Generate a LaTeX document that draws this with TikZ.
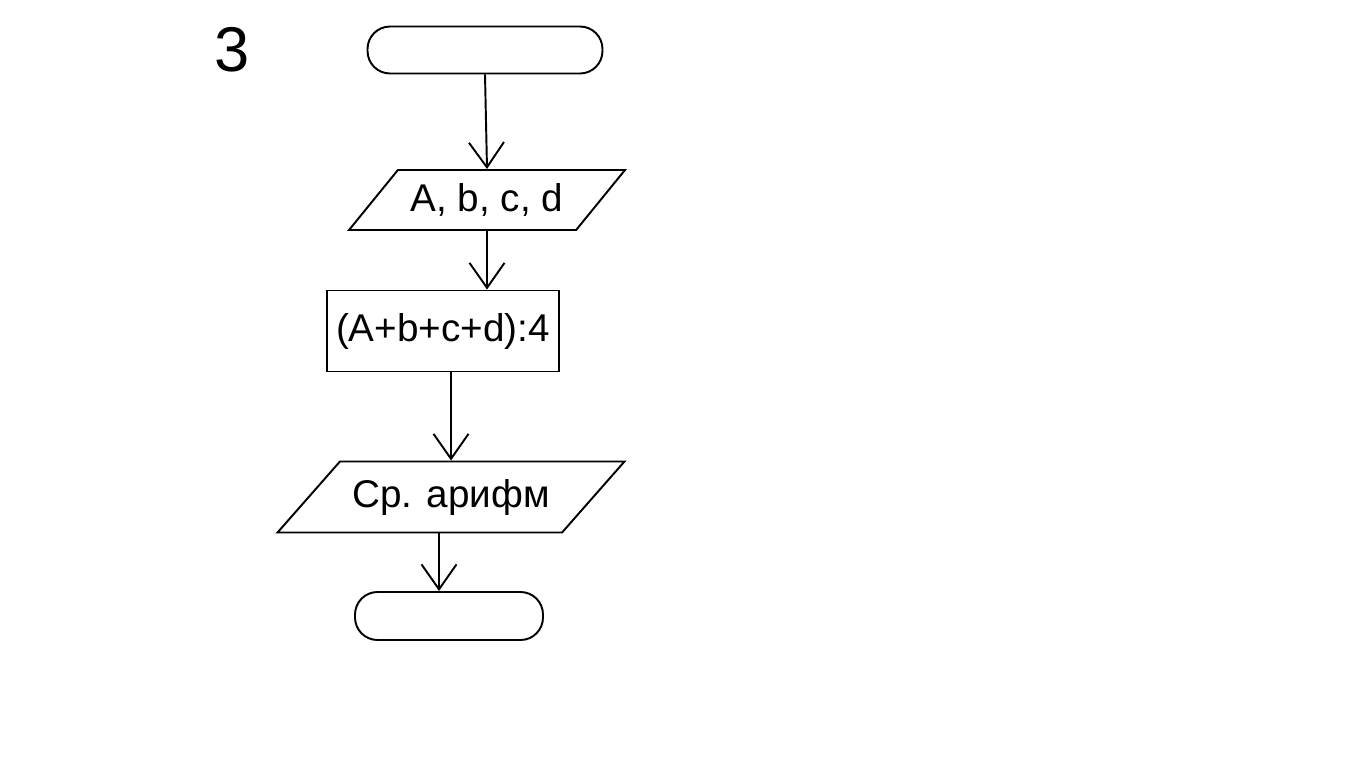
\documentclass[tikz,border=0pt]{standalone}
\usepackage{fontspec}
\setmainfont{Liberation Sans}
\usetikzlibrary{shapes.geometric, arrows.meta}

\begin{document}
\begin{tikzpicture}[x=0.02cm, y=-0.02cm,
	line width=1.1pt,
	term/.style={draw, rounded corners=0.45cm, inner sep=0pt},
	io/.style={draw, trapezium, trapezium left angle=#1, trapezium right angle=180-#1,
		trapezium stretches body=true, inner sep=0pt, font=\fontsize{22}{26}\selectfont},
	proc/.style={draw, rectangle, inner sep=0pt, font=\fontsize{22}{26}\selectfont},
	flow/.style={-{Straight Barb[length=0.5cm, width=0.7cm]}}]
	\useasboundingbox (0,0) rectangle (1366,768);
	%\draw[step=100, color=gray] (0,0) grid (1366,768);
	\node[font=\fontsize{36}{42}\selectfont] (num) at (232,50) {3};
	\node[term, minimum width=4.7cm, minimum height=0.94cm] (start) at (485,50) {};
	\node[io=34, minimum width=5.52cm, minimum height=1.2cm] (input) at (487,200) {A, b, c, d};
	\node[proc, minimum width=4.64cm, minimum height=1.62cm] (calc) at (443,331) {(A+b+c+d):4};
	\node[io=30, minimum width=6.94cm, minimum height=1.42cm] (output) at (451,497) {Ср. арифм};
	\node[term, minimum width=3.76cm, minimum height=0.96cm] (stop) at (449,616) {};
	\draw[flow] (start.south) -- (input.north);
	\draw[flow] (input.south) -- (input.south |- calc.north);
	\draw[flow] (output.north |- calc.south) -- (output.north);
	\draw[flow] ([xshift=-0.2cm]stop.north |- output.south) -- ([xshift=-0.2cm]stop.north);
\end{tikzpicture}
\end{document}
